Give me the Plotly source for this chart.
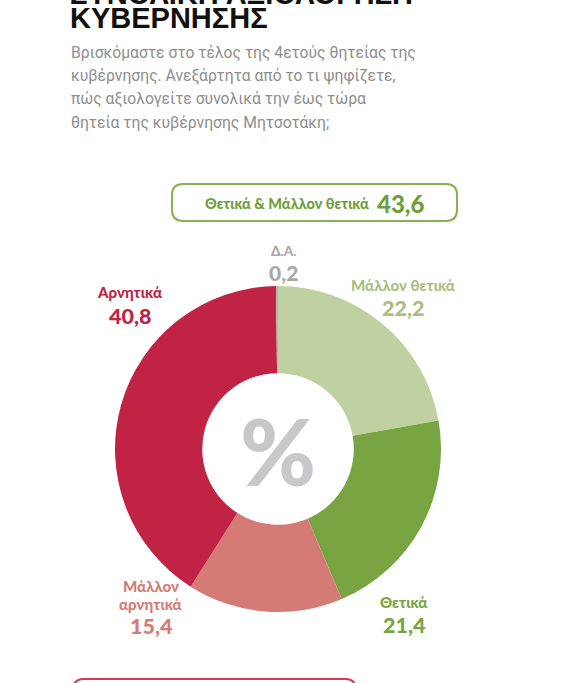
import plotly.graph_objects as go

W, H = 570, 683
OFF = 0  # page body margin is removed below

categories = ["Μάλλον θετικά", "Θετικά", "Μάλλον αρνητικά", "Αρνητικά", "Δ.Α."]
values = [22.2, 21.4, 15.4, 40.8, 0.2]
colors = ["#c1d0a0", "#78a542", "#d57b75", "#c02343", "#b5b5b5"]
total_label = "Θετικά & Μάλλον θετικά"
total_value = 43.6

title_lines = ["ΣΥΝΟΛΙΚΗ ΑΞΙΟΛΟΓΗΣΗ", "ΚΥΒΕΡΝΗΣΗΣ"]
subtitle_lines = [
    "Βρισκόμαστε στο τέλος της 4ετούς θητείας της",
    "κυβέρνησης. Ανεξάρτητα από το τι ψηφίζετε,",
    "πώς αξιολογείτε συνολικά την έως τώρα",
    "θητεία της κυβέρνησης Μητσοτάκη;",
]


def px(x):
    return (x - OFF) / W


def py(y):
    return 1 - (y - OFF) / H


def fmt(v):
    return f"{v:.1f}".replace(".", ",")


cx, cy, R = 278, 449, 163

fig = go.Figure(go.Pie(
    labels=categories,
    values=values,
    marker=dict(colors=colors, line=dict(color="white", width=0)),
    hole=0.465,
    sort=False,
    direction="clockwise",
    rotation=0,
    textinfo="none",
    hoverinfo="label+value",
    domain=dict(x=[px(cx - R), px(cx + R)], y=[py(cy + R), py(cy - R)]),
    showlegend=False,
))

ann = []
FONT = "Lato"

# Title (first line partially cut at top of the frame)
ann.append(dict(x=px(68), y=py(-6), text=f"<b>{title_lines[0]}</b>", xanchor="left", yanchor="middle",
                font=dict(family="Liberation Sans", size=29, color="#111111")))
ann.append(dict(x=px(68), y=py(18), text=f"<b>{title_lines[1]}</b>", xanchor="left", yanchor="middle",
                font=dict(family="Liberation Sans", size=29, color="#111111")))
for i, line in enumerate(subtitle_lines):
    ann.append(dict(x=px(69), y=py(52 + i * 23.5), text=line, xanchor="left", yanchor="middle",
                    font=dict(family="Roboto", size=15.7, color="#8e8e8e")))

# Slice labels
label_pos = {
    "Μάλλον θετικά": (403, [(285, "Μάλλον θετικά", 15)], (308, 21.5)),
    "Θετικά": (404, [(602, "Θετικά", 15)], (625, 21.5)),
    "Μάλλον αρνητικά": (151, [(586, "Μάλλον", 15), (604, "αρνητικά", 15)], (626, 21.5)),
    "Αρνητικά": (130, [(292, "Αρνητικά", 15)], (316, 21.5)),
    "Δ.Α.": (283, [(251, "Δ.Α.", 13.5)], (273, 21)),
}
label_colors = {
    "Μάλλον θετικά": "#a9bf80",
    "Θετικά": "#78a542",
    "Μάλλον αρνητικά": "#d57b75",
    "Αρνητικά": "#c02343",
    "Δ.Α.": "#a8a8a8",
}
for cat, val in zip(categories, values):
    x, lines, (vy, vs) = label_pos[cat]
    c = label_colors[cat]
    for (ly, txt, sz) in lines:
        ann.append(dict(x=px(x), y=py(ly), text=txt, xanchor="center", yanchor="middle",
                        font=dict(family=FONT, size=sz, color=c, weight=900)))
    ann.append(dict(x=px(x), y=py(vy), text=fmt(val), xanchor="center", yanchor="middle",
                    font=dict(family=FONT, size=vs, color=c, weight=900)))

# center percent sign
ann.append(dict(x=px(cx), y=py(cy + 1), text="%", xanchor="center", yanchor="middle",
                font=dict(family=FONT, size=92, color="#c8c8ca", weight=900)))

# total box text
ann.append(dict(x=px(371), y=py(203), text=total_label, xanchor="right", yanchor="middle",
                font=dict(family=FONT, size=14.5, color="#6f9e3a", weight=900)))
ann.append(dict(x=px(375), y=py(203), text=fmt(total_value), xanchor="left", yanchor="middle",
                font=dict(family=FONT, size=24, color="#6f9e3a", weight=900)))

for a in ann:
    a.update(xref="paper", yref="paper", showarrow=False)


def rounded_rect(x0, y0, x1, y1, r):
    X = lambda v: f"{px(v):.5f}"
    Y = lambda v: f"{py(v):.5f}"
    return (f"M {X(x0 + r)},{Y(y0)} L {X(x1 - r)},{Y(y0)} Q {X(x1)},{Y(y0)} {X(x1)},{Y(y0 + r)} "
            f"L {X(x1)},{Y(y1 - r)} Q {X(x1)},{Y(y1)} {X(x1 - r)},{Y(y1)} "
            f"L {X(x0 + r)},{Y(y1)} Q {X(x0)},{Y(y1)} {X(x0)},{Y(y1 - r)} "
            f"L {X(x0)},{Y(y0 + r)} Q {X(x0)},{Y(y0)} {X(x0 + r)},{Y(y0)} Z")


shapes = [
    dict(type="path", xref="paper", yref="paper", path=rounded_rect(172, 184, 457, 221, 11),
         line=dict(color="#86b254", width=2), fillcolor="rgba(0,0,0,0)"),
    dict(type="path", xref="paper", yref="paper", path=rounded_rect(73, 679, 356, 715, 11),
         line=dict(color="#d43a55", width=2), fillcolor="rgba(0,0,0,0)"),
]

fig.update_layout(
    width=W, height=H,
    margin=dict(l=0, r=0, t=0, b=0),
    paper_bgcolor="white", plot_bgcolor="white",
    annotations=ann, shapes=shapes,
)

fig.write_html("out.html", config={"displayModeBar": False},
               post_script="document.body.style.margin='0';")
